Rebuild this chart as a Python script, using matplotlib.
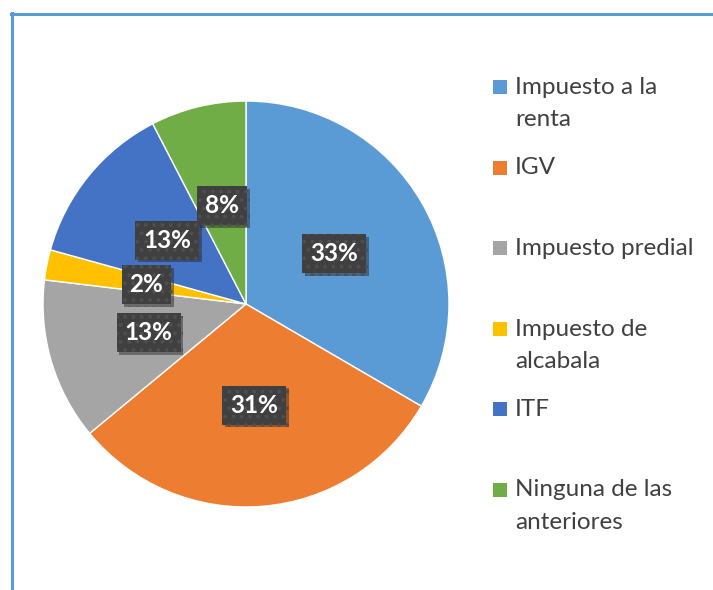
import numpy as np
import matplotlib
matplotlib.use('Agg')
import matplotlib.pyplot as plt
from matplotlib.patches import Rectangle
from matplotlib.lines import Line2D
import matplotlib.patheffects as pe

labels = ['Impuesto a la\nrenta', 'IGV', 'Impuesto predial',
          'Impuesto de\nalcabala', 'ITF', 'Ninguna de las\nanteriores']
values = [33.4, 30.6, 12.9, 2.4, 13.1, 7.6]
colors = ['#5B9BD5', '#ED7D31', '#A5A5A5', '#FFC000', '#4472C4', '#70AD47']

plt.rcParams['font.family'] = ['Lato', 'DejaVu Sans']
plt.rcParams['hatch.linewidth'] = 1.5

W, H = 713, 590
fig = plt.figure(figsize=(W / 100, H / 100), dpi=100)

# pie axes: center (246,304), radius 205 px
cx, cy, r = 246, 304, 205
ax = fig.add_axes([(cx - r) / W, (H - cy - r) / H, 2 * r / W, 2 * r / H])
wedges, texts, autotexts = ax.pie(values, colors=colors, startangle=90,
                                  counterclock=False, autopct='%.0f%%',
                                  pctdistance=0.5,
                                  wedgeprops=dict(edgecolor='white', linewidth=1),
                                  textprops=dict(color='white', fontsize=17.5,
                                                 fontweight='bold'))
ax.set_xlim(-1.01, 1.01)
ax.set_ylim(-1.01, 1.01)
for t in autotexts:
    t.set_bbox(dict(boxstyle='square,pad=0.33', facecolor='#404040',
                    edgecolor='#4f4f4f', linewidth=0, hatch='..'))
    t.get_bbox_patch().set_path_effects(
        [pe.SimplePatchShadow(offset=(2, -2), shadow_rgbFace='#222222', alpha=0.45),
         pe.Normal()])

# legend drawn by hand so squares line up with the first text line
step = 80.5
for i, (lab, col) in enumerate(zip(labels, colors)):
    ytop = 80 + i * step
    fig.patches.append(Rectangle((493 / W, 1 - (ytop + 14) / H), 14 / W, 14 / H,
                                 transform=fig.transFigure, facecolor=col,
                                 edgecolor='none'))
    fig.text(515 / W, 1 - (ytop - 3) / H, lab, fontsize=17.5, color='#404040',
             va='top', ha='left', linespacing=1.65)

# frame lines (top and left)
fig.add_artist(Line2D([11 / W, 1], [1 - 14 / H, 1 - 14 / H], color='#5B9BD5',
                      linewidth=2.2, transform=fig.transFigure))
fig.add_artist(Line2D([12 / W, 12 / W], [0, 1 - 13 / H], color='#5B9BD5',
                      linewidth=2.2, transform=fig.transFigure))

fig.savefig('out.png', dpi=100)
